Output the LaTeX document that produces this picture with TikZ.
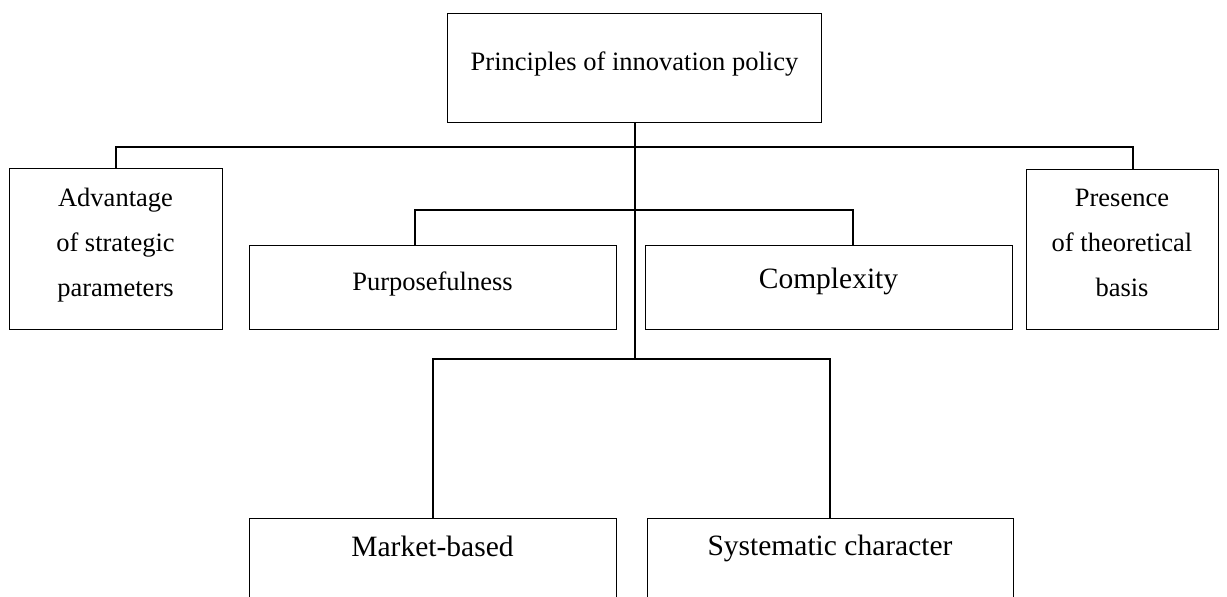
\documentclass[tikz,border=0pt]{standalone}
\usepackage{fontspec}
\setmainfont{Liberation Serif}
\begin{document}
\begin{tikzpicture}[x=1pt,y=-1pt,
  box/.style={draw=black,line width=1pt,rectangle,inner sep=0pt},
  conn/.style={draw=black,line width=2pt,line join=miter},
  lbl/.style={anchor=base,inner sep=0pt,font=\fontsize{26.5}{45}\selectfont,align=center},
  lblbig/.style={anchor=base,inner sep=0pt,font=\fontsize{29.5}{45}\selectfont}]
\useasboundingbox (0,0) rectangle (1227,597);
\begin{scope}
\clip (0,0) rectangle (1227,597);
% boxes
\node[box,minimum width=374pt,minimum height=109pt] (top) at (634.5,67.5) {};
\node[box,minimum width=213pt,minimum height=161pt] (adv) at (115.5,248.5) {};
\node[box,minimum width=192pt,minimum height=160pt] (pres) at (1122,249) {};
\node[box,minimum width=367pt,minimum height=84pt] (purp) at (432.5,287) {};
\node[box,minimum width=367pt,minimum height=84pt] (comp) at (828.5,287) {};
\node[box,minimum width=367pt,minimum height=84pt] (mark) at (432.5,560) {};
\node[box,minimum width=366pt,minimum height=84pt] (sys) at (830,560) {};
% labels
\node[lbl] (ttop) at (634.5,70) {Principles of innovation policy};
\node[lbl] (tadv1) at (115.5,206) {Advantage};
\node[lbl] (tadv2) at (115.5,251) {of strategic};
\node[lbl] (tadv3) at (115.5,296) {parameters};
\node[lbl] (tpres1) at (1122,206) {Presence};
\node[lbl] (tpres2) at (1122,251) {of theoretical};
\node[lbl] (tpres3) at (1122,296) {basis};
\node[lbl] (tpurp) at (432.5,290) {Purposefulness};
\node[lblbig] (tcomp) at (828.5,288) {Complexity};
\node[lblbig] (tmark) at (432.5,556) {Market-based};
\node[lblbig] (tsys) at (830,555) {Systematic character};
% junction coordinates
\coordinate (c1) at (116,147);
\coordinate (c2) at (1133,147);
\coordinate (c3) at (415,210);
\coordinate (c4) at (853,210);
\coordinate (c5) at (634.5,359);
% connectors
\draw[conn] (top.south) -- (c5);
\draw[conn] (adv.north -| c1) -- (c1) -- (c2) -- (pres.north -| c2);
\draw[conn] (purp.north -| c3) -- (c3) -- (c4) -- (comp.north -| c4);
\draw[conn] (mark.north) |- (c5) -| (sys.north);
\end{scope}
\end{tikzpicture}
\end{document}
